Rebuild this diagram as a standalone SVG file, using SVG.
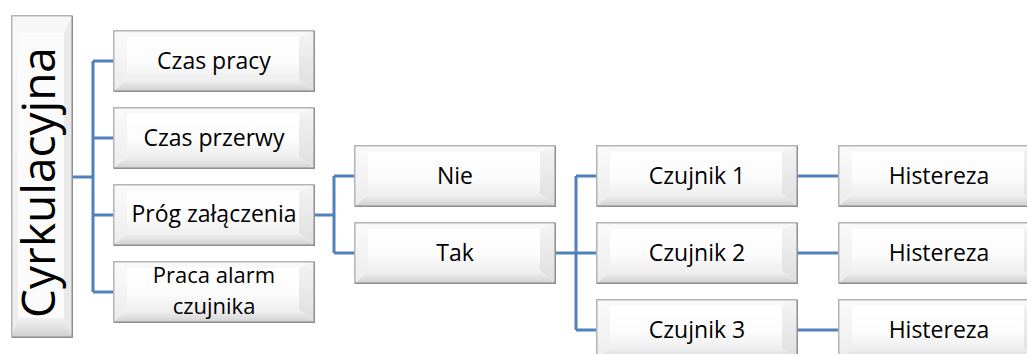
<svg xmlns="http://www.w3.org/2000/svg" xmlns:xlink="http://www.w3.org/1999/xlink" width="1027" height="354" viewBox="0 0 1027 354">
  <style>
    .t { font-family: "Open Sans", "Liberation Sans", sans-serif; font-size: 23px; fill: #000; text-anchor: middle; }
    .two { font-size: 22px; }
    .big { font-size: 46px; }
    .conn { fill: none; stroke: #4f81bd; stroke-width: 3; stroke-linejoin: miter; }
  </style>
  <defs>
    <linearGradient id="face" x1="0" y1="0" x2="0" y2="1">
      <stop offset="0" stop-color="#ffffff"/>
      <stop offset="0.6" stop-color="#fcfcfc"/>
      <stop offset="1" stop-color="#efefef"/>
    </linearGradient>
    <linearGradient id="bevB" x1="0" y1="0" x2="0" y2="1">
      <stop offset="0" stop-color="#f2f2f2"/>
      <stop offset="1" stop-color="#cfcfcf"/>
    </linearGradient>
    <linearGradient id="bevR" x1="0" y1="0" x2="0" y2="1">
      <stop offset="0" stop-color="#f4f4f4"/>
      <stop offset="1" stop-color="#dedede"/>
    </linearGradient>
    <linearGradient id="bevL" x1="0" y1="0" x2="0" y2="1">
      <stop offset="0" stop-color="#fafafa"/>
      <stop offset="1" stop-color="#ececec"/>
    </linearGradient>
    <!-- bevelled button, 202 x 62 -->
    <symbol id="bevel" viewBox="0 0 202 62" overflow="visible">
      <rect x="0" y="0" width="202" height="62" fill="#fff"/>
      <polygon points="0,0 202,0 186,7 14,7" fill="#f8f8f8"/>
      <polygon points="0,0 14,7 14,49 0,62" fill="url(#bevL)"/>
      <polygon points="202,0 202,62 186,49 186,7" fill="url(#bevR)"/>
      <polygon points="0,62 202,62 186,49 14,49" fill="url(#bevB)"/>
      <rect x="14" y="7" width="172" height="42" fill="url(#face)"/>
      <path d="M0.75,61.25 V0.75 H201.25" fill="none" stroke="#b4b4b4" stroke-width="1.5"/>
      <path d="M0.75,61.25 H201.25 V0.75" fill="none" stroke="#8e8e8e" stroke-width="1.5"/>
    </symbol>
  </defs>

  <!-- connectors -->
  <g id="connectors">
    <path class="conn" d="M73,177 H93 M93,61 V292 M93,61 H113 M93,138 H113 M93,215 H113 M93,292 H113"/>
    <path class="conn" d="M315,215 H334 M334,176 V253 M334,176 H354 M334,253 H354"/>
    <path class="conn" d="M556,253 H576 M576,176 V330 M576,176 H596 M576,253 H596 M576,330 H596"/>
    <path class="conn" d="M798,176 H838 M798,253 H838 M798,330 H838"/>
  </g>

  <!-- root (vertical) -->
  <g id="cyrkulacyjna">
    <rect x="11" y="15" width="62" height="323" fill="#fff"/>
    <polygon points="11,15 73,15 64,33 18,33" fill="#f7f7f7"/>
    <polygon points="11,15 18,33 18,318 11,338" fill="url(#bevL)"/>
    <polygon points="73,15 73,338 64,318 64,33" fill="#e9e9e9"/>
    <polygon points="11,338 73,338 64,318 18,318" fill="url(#bevB)"/>
    <rect x="18" y="33" width="46" height="285" fill="#fbfbfb"/>
    <path d="M11.75,337.25 V15.75 H72.25" fill="none" stroke="#b4b4b4" stroke-width="1.5"/>
    <path d="M11.75,337.25 H72.25 V15.75" fill="none" stroke="#8e8e8e" stroke-width="1.5"/>
    <text class="t big" transform="translate(55,182.5) rotate(-90)">Cyrkulacyjna</text>
  </g>

  <!-- level 1 -->
  <g id="czas-pracy">
    <use xlink:href="#bevel" x="113" y="30" width="202" height="62"/>
    <text class="t" x="214" y="69">Czas pracy</text>
  </g>
  <g id="czas-przerwy">
    <use xlink:href="#bevel" x="113" y="107" width="202" height="62"/>
    <text class="t" x="214" y="146">Czas przerwy</text>
  </g>
  <g id="prog">
    <use xlink:href="#bevel" x="113" y="184" width="202" height="62"/>
    <text class="t" x="214" y="222">Próg załączenia</text>
  </g>
  <g id="praca-alarm">
    <use xlink:href="#bevel" x="113" y="261" width="202" height="62"/>
    <text class="t two" x="214" y="283">Praca alarm</text>
    <text class="t two" x="214" y="314">czujnika</text>
  </g>

  <!-- level 2 -->
  <g id="nie">
    <use xlink:href="#bevel" x="354" y="145" width="202" height="62"/>
    <text class="t" x="455" y="184">Nie</text>
  </g>
  <g id="tak">
    <use xlink:href="#bevel" x="354" y="222" width="202" height="62"/>
    <text class="t" x="455" y="261">Tak</text>
  </g>

  <!-- level 3 -->
  <g id="czujnik-1">
    <use xlink:href="#bevel" x="596" y="145" width="202" height="62"/>
    <text class="t" x="697" y="184">Czujnik 1</text>
  </g>
  <g id="czujnik-2">
    <use xlink:href="#bevel" x="596" y="222" width="202" height="62"/>
    <text class="t" x="697" y="261">Czujnik 2</text>
  </g>
  <g id="czujnik-3">
    <use xlink:href="#bevel" x="596" y="299" width="202" height="62"/>
    <text class="t" x="697" y="338">Czujnik 3</text>
  </g>

  <!-- level 4 -->
  <g id="histereza-1">
    <use xlink:href="#bevel" x="838" y="145" width="202" height="62"/>
    <text class="t" x="939" y="184">Histereza</text>
  </g>
  <g id="histereza-2">
    <use xlink:href="#bevel" x="838" y="222" width="202" height="62"/>
    <text class="t" x="939" y="261">Histereza</text>
  </g>
  <g id="histereza-3">
    <use xlink:href="#bevel" x="838" y="299" width="202" height="62"/>
    <text class="t" x="939" y="338">Histereza</text>
  </g>
</svg>
